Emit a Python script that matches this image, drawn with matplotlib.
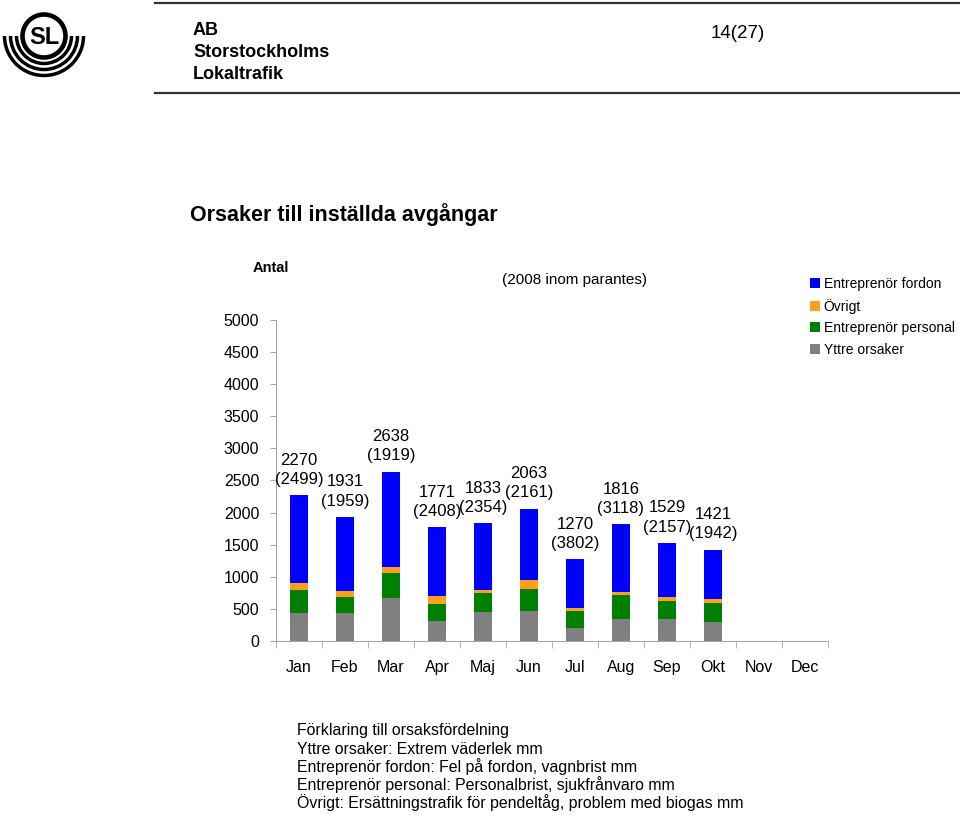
import numpy as np
import matplotlib
matplotlib.use("Agg")
import matplotlib.pyplot as plt
from matplotlib import font_manager
from matplotlib.patches import Circle, Arc

plt.rcParams['font.family'] = ['Liberation Sans', 'DejaVu Sans']

# data
months = ['Jan', 'Feb', 'Mar', 'Apr', 'Maj', 'Jun', 'Jul', 'Aug', 'Sep', 'Okt', 'Nov', 'Dec']
yttre = [430, 430, 665, 310, 450, 465, 200, 350, 340, 300]
personal = [365, 260, 390, 265, 295, 345, 265, 365, 290, 295]
ovrigt = [105, 95, 90, 125, 55, 145, 50, 50, 55, 55]
totals = [2270, 1931, 2638, 1771, 1833, 2063, 1270, 1816, 1529, 1421]
totals_2008 = [2499, 1959, 1919, 2408, 2354, 2161, 3802, 3118, 2157, 1942]
fordon = [t - a - b - c for t, a, b, c in zip(totals, yttre, personal, ovrigt)]

c_fordon = '#0000ff'
c_ovrigt = '#ff9f1c'
c_personal = '#008000'
c_yttre = '#808080'
axis_col = '#a6a6a6'

fig = plt.figure(figsize=(9.6, 8.16), dpi=100)

# overlay for page decoration, in pixel units
deco = fig.add_axes([0, 0, 1, 1])
deco.set_xlim(0, 960)
deco.set_ylim(816, 0)
deco.axis('off')

# SL logo
deco.add_patch(Circle((44, 36), 21.5, fill=False, lw=3.3, color='black'))
for r in (27.5, 33.5, 39.5):
    deco.add_patch(Arc((44, 36), 2 * r, 2 * r, theta1=0, theta2=180, lw=2.5, color='black'))
deco.text(44, 37, 'SL', ha='center', va='center', fontsize=17, fontweight='bold')

# header lines and text
deco.plot([155, 960], [3, 3], color='#333333', lw=1.6)
deco.plot([155, 960], [93, 93], color='#333333', lw=1.6)
names = {f.name for f in font_manager.fontManager.ttflist}
if 'Liberation Sans Narrow' in names:
    hfam, hsize = 'Liberation Sans Narrow', 16
else:
    hfam, hsize = 'Liberation Sans', 13
for i, line in enumerate(['AB', 'Storstockholms', 'Lokaltrafik']):
    deco.text(193, 35 + 22 * i, line, ha='left', va='baseline',
              fontsize=hsize, fontweight='bold', family=hfam)
deco.text(738, 33, '14(27)', ha='center', va='center', fontsize=13.5)

# titles
deco.text(190, 215, 'Orsaker till inställda avgångar', ha='left', va='center',
          fontsize=15.5, fontweight='bold')
deco.text(271, 268, 'Antal', ha='center', va='center', fontsize=10.5, fontweight='bold')
deco.text(574, 280, '(2008 inom parantes)', ha='center', va='center', fontsize=11)

notes = ['Förklaring till orsaksfördelning',
         'Yttre orsaker: Extrem väderlek mm',
         'Entreprenör fordon: Fel på fordon, vagnbrist mm',
         'Entreprenör personal: Personalbrist, sjukfrånvaro mm',
         'Övrigt: Ersättningstrafik för pendeltåg, problem med biogas mm']
for i, line in enumerate(notes):
    deco.text(297, 731 + 18 * i, line, ha='left', va='center', fontsize=11.4)

# main chart
ax = fig.add_axes([276 / 960, 1 - 641 / 816, 552 / 960, 321 / 816])
x = np.arange(len(yttre))
w = 0.37
b1 = np.array(yttre)
b2 = b1 + np.array(personal)
b3 = b2 + np.array(ovrigt)
ax.bar(x, yttre, w, color=c_yttre, label='Yttre orsaker')
ax.bar(x, personal, w, bottom=b1, color=c_personal, label='Entreprenör personal')
ax.bar(x, ovrigt, w, bottom=b2, color=c_ovrigt, label='Övrigt')
ax.bar(x, fordon, w, bottom=b3, color=c_fordon, label='Entreprenör fordon')

for xi, t, p in zip(x, totals, totals_2008):
    ax.annotate(f'{t}\n({p})', (xi, t), xytext=(0, 6), textcoords='offset points',
                ha='center', va='bottom', fontsize=12, linespacing=1.35)

ax.set_xlim(-0.5, 11.5)
ax.set_ylim(0, 5000)
ax.set_yticks(np.arange(0, 5001, 500))
ax.set_xticks(np.arange(12))
ax.set_xticklabels(months)
ax.set_xticks(np.arange(-0.5, 12, 1), minor=True)
ax.tick_params(axis='x', which='major', length=0, pad=14, labelsize=11.5)
ax.tick_params(axis='x', which='minor', length=5, color=axis_col, direction='out')
ax.tick_params(axis='y', length=4, color=axis_col, direction='out', pad=8, labelsize=11.5)
for s in ('top', 'right'):
    ax.spines[s].set_visible(False)
for s in ('left', 'bottom'):
    ax.spines[s].set_color(axis_col)
ax.patch.set_alpha(0)

handles, labels = ax.get_legend_handles_labels()
order = [3, 2, 1, 0]
fig.legend([handles[i] for i in order], [labels[i] for i in order],
           loc='upper left', bbox_to_anchor=(803 / 960, 1 - 270 / 816),
           frameon=False, fontsize=10, handlelength=0.7, handleheight=0.7,
           handletextpad=0.3, labelspacing=0.55, borderpad=0)

fig.savefig('out.png', dpi=100)
